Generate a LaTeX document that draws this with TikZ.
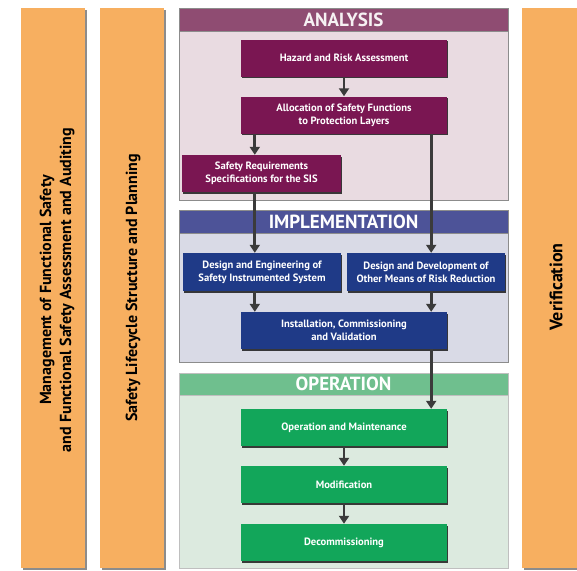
\documentclass[tikz,border=0pt]{standalone}
\usepackage{fontspec}
\setmainfont{PT Sans}
\usetikzlibrary{arrows.meta,shadows}

\definecolor{barorange}{HTML}{F7AF60}
\definecolor{anabody}{HTML}{E9DBE1}
\definecolor{anahead}{HTML}{8F4C72}
\definecolor{anabox}{HTML}{7A1652}
\definecolor{impbody}{HTML}{D9DAE6}
\definecolor{imphead}{HTML}{4D5398}
\definecolor{impbox}{HTML}{1F3A87}
\definecolor{opbody}{HTML}{DCEADF}
\definecolor{ophead}{HTML}{6FBF8E}
\definecolor{opbox}{HTML}{12A65A}
\definecolor{arrowgray}{HTML}{3B3B3B}

\tikzset{
  stage/.style={text=white, font=\bfseries\fontsize{10.6}{13}\selectfont, align=center,
    minimum height=37pt, inner sep=0pt,
    drop shadow={shadow xshift=1pt, shadow yshift=-1.5pt, fill=black, opacity=0.75}},
  headtext/.style={font=\bfseries\fontsize{19}{19}\selectfont, text=white, inner sep=0pt},
  sidetext/.style={font=\bfseries\fontsize{16}{20}\selectfont, rotate=90, align=center},
  flow/.style={draw=arrowgray, line width=2.8pt, -{Triangle[width=10pt,length=8pt]}},
}

\begin{document}
\begin{tikzpicture}[x=1pt,y=-1pt]
    \useasboundingbox (0,0) rectangle (577,570);
    \fill[white] (0,0) rectangle (577,570);

    % the three orange bars
    \fill[black!45] (23,10) rectangle (87,570);
    \fill[barorange] (21,8) rectangle (85,568);
    \fill[black!45] (102,10) rectangle (166,570);
    \fill[barorange] (100,8) rectangle (164,568);
    \fill[black!45] (524,10) rectangle (579,570);
    \fill[barorange] (522,8) rectangle (577,568);
    \node[sidetext] (mgmt) at (57,290) {Management of Functional Safety\\and Functional Safety Assessment and Auditing};
    \node[sidetext] (lifecycle) at (133,288) {Safety Lifecycle Structure and Planning};
    \node[sidetext, font=\bfseries\fontsize{18}{20}\selectfont] (verif) at (556,287) {Verification};

    % the analysis panel
    \draw[fill=anabody, draw=black!45, line width=0.8pt] (179,8) rectangle (508,200);
    \draw[fill=anahead, draw=black!45, line width=0.8pt] (179,8) rectangle (508,31);
    \node[headtext, text=anabody!40!white] (anatitle) at (343.5,19.5) {ANALYSIS};

    % the implementation panel
    \draw[fill=impbody, draw=black!45, line width=0.8pt] (179,210) rectangle (508,362);
    \draw[fill=imphead, draw=black!45, line width=0.8pt] (179,210) rectangle (508,233);
    \node[headtext] (imptitle) at (343.5,221.5) {IMPLEMENTATION};

    % the operation panel
    \draw[fill=opbody, draw=black!25, line width=0.8pt] (179,373) rectangle (508,568);
    \draw[fill=ophead, draw=black!25, line width=0.8pt] (179,373) rectangle (508,395);
    \node[headtext] (optitle) at (343.5,384) {OPERATION};

    % the stages
    \node[stage, fill=anabox, minimum width=206pt] (hazard) at (344,58) {Hazard and Risk Assessment};
    \node[stage, fill=anabox, minimum width=206pt] (alloc) at (344,115) {Allocation of Safety Functions\\to Protection Layers};
    \node[stage, fill=anabox, minimum width=159pt] (srs) at (261.5,173.5) {Safety Requirements\\Specifications for the SIS};
    \node[stage, fill=impbox, minimum width=158pt, minimum height=38pt] (sisdesign) at (262,272) {Design and Engineering of\\Safety Instrumented System};
    \node[stage, fill=impbox, minimum width=158pt, minimum height=38pt] (otherdesign) at (426,272) {Design and Development of\\Other Means of Risk Reduction};
    \node[stage, fill=impbox, minimum width=206pt] (install) at (344,330.5) {Installation, Commissioning\\and Validation};
    \node[stage, fill=opbox, minimum width=206pt] (opmaint) at (344,427.5) {Operation and Maintenance};
    \node[stage, fill=opbox, minimum width=206pt] (modif) at (344,484.5) {Modification};
    \node[stage, fill=opbox, minimum width=206pt] (decom) at (344,542.5) {Decommissioning};

    % arrows between the stages
    \draw[flow] (hazard) -- (alloc);
    \draw[flow] ([xshift=14pt]alloc.south west) -- ([xshift=14pt]alloc.south west |- srs.north);
    \draw[flow] ([xshift=-16pt]alloc.south east) -- ([xshift=-16pt]alloc.south east |- otherdesign.north);
    \draw[flow] ([xshift=14pt]alloc.south west |- srs.south) -- ([xshift=14pt]alloc.south west |- sisdesign.north);
    \draw[flow] ([xshift=14pt]alloc.south west |- sisdesign.south) -- ([xshift=14pt]install.north west);
    \draw[flow] ([xshift=-16pt]alloc.south east |- otherdesign.south) -- ([xshift=-16pt]install.north east);
    \draw[flow] ([xshift=-16pt]install.south east) -- ([xshift=-16pt]install.south east |- opmaint.north);
    \draw[flow] (opmaint) -- (modif);
    \draw[flow] (modif) -- (decom);
\end{tikzpicture}
\end{document}
